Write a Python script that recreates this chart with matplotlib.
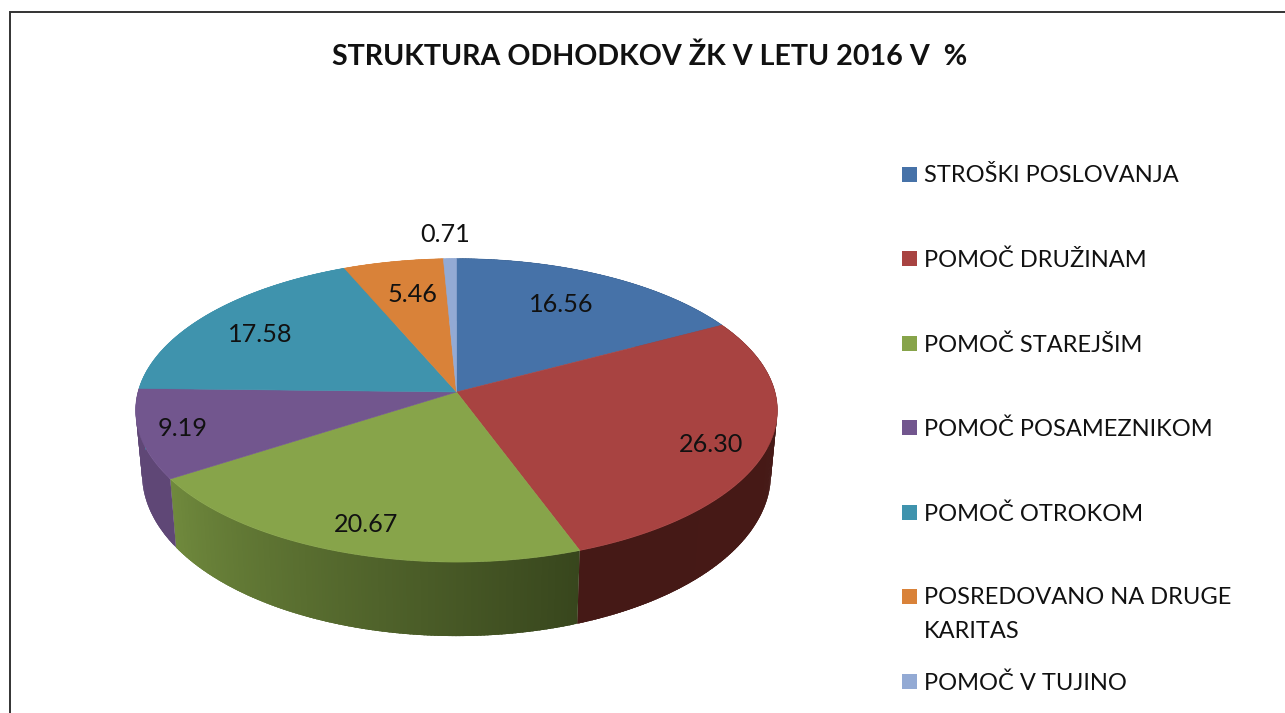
#!/usr/bin/env python
# -*- coding: utf-8 -*-

import numpy as np
from matplotlib import pyplot as plt
from matplotlib.colors import to_rgb
from matplotlib.patches import Rectangle

title = 'STRUKTURA ODHODKOV ŽK V LETU 2016 V  %'
categories = ['STROŠKI POSLOVANJA', 'POMOČ DRUŽINAM', 'POMOČ STAREJŠIM', 'POMOČ POSAMEZNIKOM',
              'POMOČ OTROKOM', 'POSREDOVANO NA DRUGE\nKARITAS', 'POMOČ V TUJINO']
values = [16.56, 26.30, 20.67, 9.19, 17.58, 5.46, 0.71]
colors = ['#4672a8', '#a84341', '#87a44a', '#72568e', '#3f93ad', '#d98239', '#93aad4']
# side wall colours, start and end of the slice going clockwise
side_colors = [('#2a4465', '#2a4465'), ('#471a17', '#451916'), ('#38461d', '#708a3d'),
               ('#5f4776', '#5f4776'), ('#3f93ad', '#3f93ad'), ('#d98239', '#d98239'),
               ('#93aad4', '#93aad4')]

# label and legend placement, in pixels
label_xy = [(561, 305), (711, 444), (366, 525), (183, 428), (260, 334), (412, 294), (445, 234)]
legend_y = [176, 260, 345, 429, 514, 598, 683]

plt.rcParams['font.family'] = ['Lato', 'DejaVu Sans']

cx, cy = 456.5, 392
rx, ry, k = 318.5, 149.5, 0.121


def top_xy(theta):
    u, v = np.sin(theta), np.cos(theta)
    d = 1 + k * v
    return cx + rx * u / d, cy - ry * v / d


def bottom_xy(theta):
    x, y = top_xy(theta)
    depth = 62 + 12 * np.maximum(-np.cos(theta), 0)
    return cx + (x - cx) * 0.98, y + depth


fig = plt.figure(figsize=(12.85, 7.13), dpi=100)
ax = fig.add_axes([0, 0, 1, 1])
ax.set_xlim(0, 1285)
ax.set_ylim(713, 0)
ax.axis('off')

# frame, only left and top are in the crop
ax.plot([10, 10, 1285], [713, 12, 12], color='#333333', lw=1.4, solid_joinstyle='miter')

edges = np.cumsum([0] + values) / sum(values) * 2 * np.pi

# side wall first, the top covers whatever is behind it
for i in range(len(values)):
    n = int((edges[i + 1] - edges[i]) / 0.01) + 2
    th = np.linspace(edges[i], edges[i + 1], n)
    c0, c1 = np.array(to_rgb(side_colors[i][0])), np.array(to_rgb(side_colors[i][1]))
    for j in range(n - 1):
        c = c0 + (c1 - c0) * j / (n - 1)
        # strips overlap their neighbour so no seams show
        a = np.linspace(th[j], th[j] + (th[1] - th[0]) * 2.5, 4)
        a = a[a <= edges[i + 1]] if j < n - 3 else th[j:]
        if len(a) < 2:
            continue
        xt, yt = top_xy(a)
        xb, yb = bottom_xy(a)
        ax.fill(np.r_[xt, xb[::-1]], np.r_[yt, yb[::-1]], color=c, lw=0)

for i in range(len(values)):
    th = np.linspace(edges[i], edges[i + 1], 200)
    x, y = top_xy(th)
    ax.fill(np.r_[cx, x], np.r_[cy, y], color=colors[i], lw=0.4)
    ax.text(label_xy[i][0], label_xy[i][1], '%.2f' % values[i], fontsize=18.2, color='#111111',
            ha='center', va='center')

ax.text(650, 57, title, fontsize=20.6, fontweight='bold', color='#111111', ha='center', va='center')

for i, name in enumerate(categories):
    ax.add_patch(Rectangle((902, legend_y[i] - 9.5), 15, 15, color=colors[i], lw=0))
    lines = name.split('\n')
    for j, line in enumerate(lines):
        ax.text(924, legend_y[i] + j * 34, line, fontsize=17, color='#111111', ha='left', va='center')

plt.savefig('out.png', dpi=100)
